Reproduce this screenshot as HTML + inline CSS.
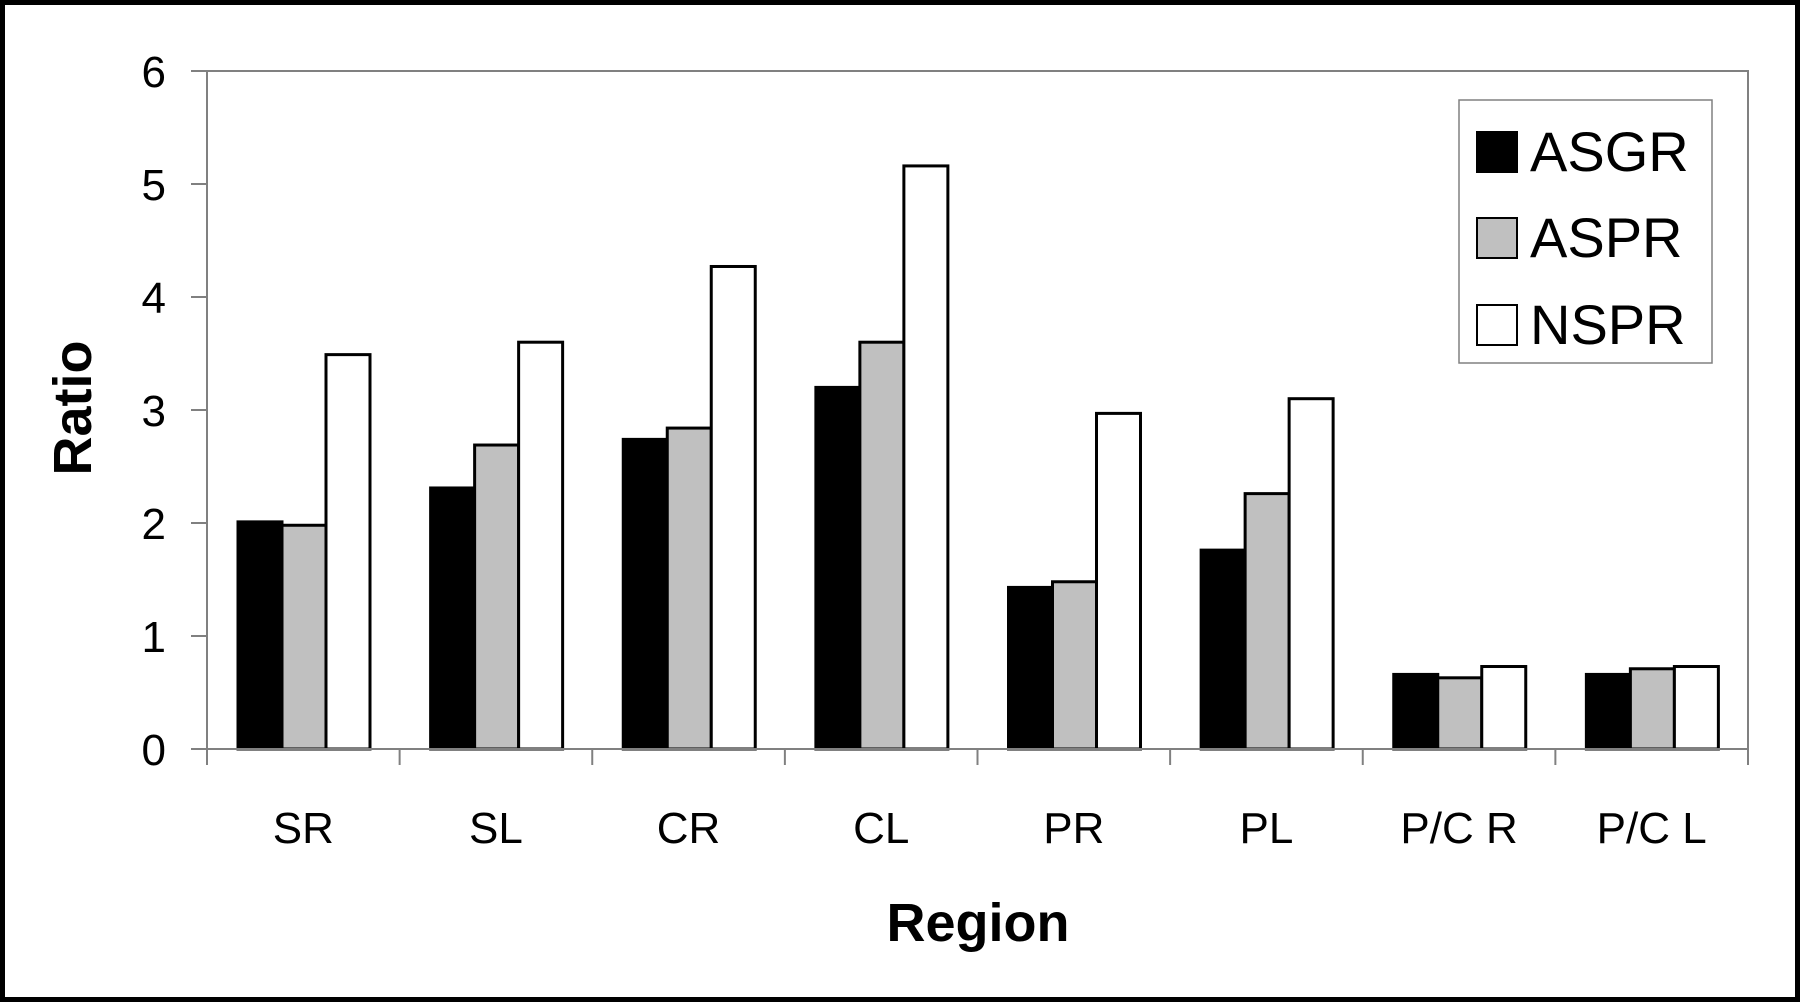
<!DOCTYPE html>
<html><head><meta charset="utf-8"><style>
html,body{margin:0;padding:0;background:#fff}
svg{display:block}
text{font-family:"Liberation Sans",Arial,sans-serif}
</style></head><body>
<svg id="chart" width="1800" height="1002" viewBox="0 0 1800 1002" xmlns="http://www.w3.org/2000/svg">
<rect x="2.5" y="2.5" width="1795" height="997" fill="#fff" stroke="#000" stroke-width="5"/>
<g id="plot"></g>
<g>
<rect x="1459" y="100" width="253" height="263" fill="#fff" stroke="#808080" stroke-width="1.5"/>
<g><rect x="1477" y="132" width="40" height="40" fill="#000" stroke="#000" stroke-width="2"/><text x="1530" y="171" font-size="56">ASGR</text></g>
<g><rect x="1477" y="218" width="40" height="40" fill="#c0c0c0" stroke="#000" stroke-width="2"/><text x="1530" y="257" font-size="56">ASPR</text></g>
<g><rect x="1477" y="305" width="40" height="40" fill="#fff" stroke="#000" stroke-width="2"/><text x="1530" y="344" font-size="56">NSPR</text></g>
</g>
<text x="978" y="941" font-size="54" font-weight="bold" text-anchor="middle">Region</text>
<text transform="translate(91,408) rotate(-90)" font-size="54" font-weight="bold" text-anchor="middle">Ratio</text>
</svg>
<script>
const categories=["SR","SL","CR","CL","PR","PL","P/C R","P/C L"];
const asgr=[2.01,2.31,2.74,3.20,1.43,1.76,0.66,0.66];
const aspr=[1.98,2.69,2.84,3.60,1.48,2.26,0.63,0.71];
const nspr=[3.49,3.60,4.27,5.16,2.97,3.10,0.73,0.73];
const yTicks=[0,1,2,3,4,5,6];
const NS="http://www.w3.org/2000/svg";
const L=207,R=1748,T=71,B=749,yMax=6;
const plot=document.getElementById('plot');
function y(v){return B-(v/yMax)*(B-T);}
const cw=(R-L)/categories.length;
function x(i){return L+i*cw;}
function mk(tag,attrs){const e=document.createElementNS(NS,tag);for(const k in attrs)e.setAttribute(k,attrs[k]);plot.appendChild(e);return e;}
// frame lines
let e=mk('polyline',{points:`${L},${T} ${R},${T} ${R},${B}`,fill:'none',stroke:'#808080','stroke-width':2});


const series=[{v:asgr,f:'#000',n:'asgr'},{v:aspr,f:'#c0c0c0',n:'aspr'},{v:nspr,f:'#fff',n:'nspr'}];
const bw=44,off=31;
categories.forEach((c,i)=>{
  series.forEach((s,j)=>{
    const bx=x(i)+off+j*bw;
    const r=mk('rect',{x:bx,y:y(s.v[i]),width:bw,height:B-y(s.v[i]),fill:s.f,stroke:'#000','stroke-width':3});
    
    
  });
  const t=mk('text',{x:x(i)+cw/2,y:843,'font-size':44,'text-anchor':'middle'});
  t.textContent=c;
  
  
});
for(let i=0;i<=categories.length;i++){
  const tk=mk('line',{x1:x(i),y1:B,x2:x(i),y2:B+16,stroke:'#808080','stroke-width':2});
  
  
}
yTicks.forEach(v=>{
  const tk=mk('line',{x1:L-16,y1:y(v),x2:L,y2:y(v),stroke:'#808080','stroke-width':2});
  
  
  const t=mk('text',{x:166,y:y(v)+16,'font-size':44,'text-anchor':'end'});
  t.textContent=v;
  
  
});
e=mk('line',{x1:L,y1:T,x2:L,y2:B+16,stroke:'#808080','stroke-width':2});


e=mk('line',{x1:L,y1:B,x2:R,y2:B,stroke:'#808080','stroke-width':2});


</script>
</body></html>
